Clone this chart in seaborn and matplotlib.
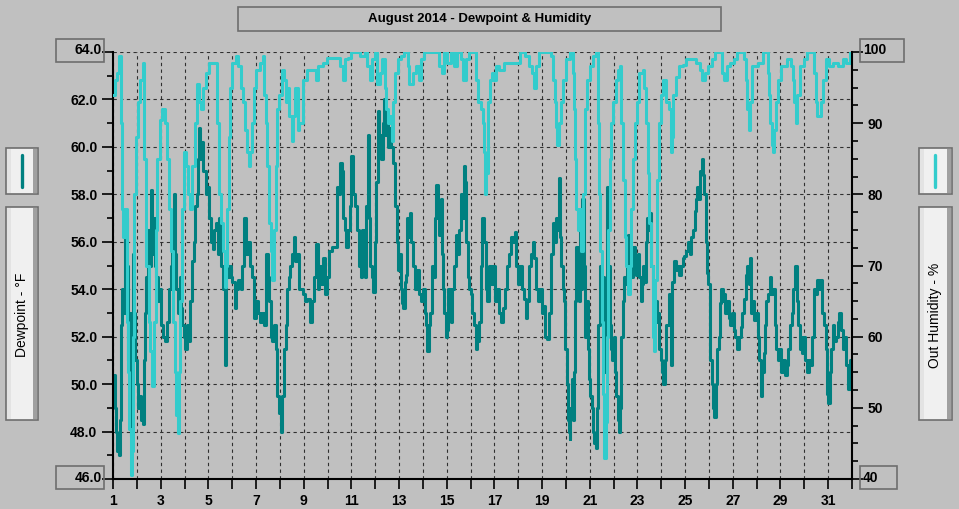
import numpy as np
import pandas as pd
import matplotlib
matplotlib.use("Agg")
import matplotlib.pyplot as plt
from matplotlib.patches import Rectangle
from matplotlib.lines import Line2D
import seaborn as sns

# chart data (day of month, value)
title = "August 2014 - Dewpoint & Humidity"
dew_label = "Dewpoint - °F"
hum_label = "Out Humidity - %"

dew_points = [
    (1.00, 50.4), (1.07, 49.0), (1.13, 48.0), (1.18, 47.2), (1.24, 47.0), (1.28, 48.5), (1.32, 52.5),
    (1.38, 54.0), (1.43, 53.0), (1.49, 56.5), (1.54, 57.0), (1.60, 55.0), (1.64, 51.0), (1.68, 53.0),
    (1.74, 47.8), (1.78, 52.0), (1.82, 55.5), (1.88, 53.0), (1.93, 51.0), (1.99, 50.0), (2.06, 49.0),
    (2.13, 49.5), (2.18, 48.5), (2.24, 48.3), (2.29, 51.0), (2.35, 53.0), (2.40, 54.5), (2.47, 56.5),
    (2.54, 55.0), (2.61, 58.2), (2.65, 55.5), (2.71, 57.0), (2.76, 55.0), (2.82, 54.5), (2.89, 53.5),
    (2.96, 54.0), (3.03, 52.5), (3.10, 52.0), (3.18, 51.8), (3.26, 52.6), (3.35, 54.0), (3.42, 55.0),
    (3.49, 56.5), (3.54, 58.0), (3.60, 55.5), (3.65, 54.0), (3.72, 53.0), (3.79, 54.5), (3.85, 53.2),
    (3.90, 52.5), (3.96, 52.0), (4.01, 51.5), (4.10, 52.5), (4.18, 51.8), (4.25, 53.5), (4.32, 55.2),
    (4.40, 56.0), (4.46, 57.5), (4.51, 58.0), (4.57, 59.5), (4.61, 60.8), (4.67, 59.5), (4.72, 60.2),
    (4.79, 59.0), (4.85, 59.0), (4.90, 58.0), (4.97, 58.3), (5.04, 57.0), (5.11, 56.0), (5.18, 55.7),
    (5.25, 56.5), (5.32, 56.8), (5.39, 55.5), (5.46, 57.0), (5.53, 55.0), (5.60, 54.0), (5.67, 55.0),
    (5.71, 50.8), (5.76, 54.5), (5.85, 55.0), (5.93, 54.5), (6.01, 54.3), (6.10, 53.2), (6.18, 54.0),
    (6.26, 54.4), (6.35, 54.0), (6.43, 55.0), (6.51, 57.0), (6.57, 55.5), (6.65, 56.0), (6.74, 55.0),
    (6.81, 54.5), (6.90, 52.8), (6.99, 53.5), (7.07, 53.0), (7.15, 52.6), (7.24, 53.0), (7.32, 52.5),
    (7.40, 55.5), (7.49, 54.5), (7.54, 53.5), (7.61, 52.0), (7.68, 51.8), (7.76, 52.5), (7.82, 51.5),
    (7.89, 49.5), (7.96, 48.8), (8.03, 48.0), (8.10, 49.5), (8.17, 51.5), (8.24, 52.5), (8.31, 54.0),
    (8.38, 54.5), (8.44, 55.0), (8.51, 55.5), (8.58, 56.2), (8.65, 55.2), (8.72, 55.5), (8.79, 54.0),
    (8.85, 54.0), (8.96, 53.8), (9.06, 53.5), (9.15, 53.6), (9.26, 52.6), (9.33, 53.5), (9.43, 54.5),
    (9.51, 55.9), (9.58, 54.0), (9.65, 55.0), (9.74, 54.2), (9.82, 55.3), (9.90, 53.8), (9.99, 54.5),
    (10.07, 55.6), (10.17, 55.8), (10.31, 55.8), (10.38, 58.3), (10.44, 58.0), (10.51, 59.3), (10.60, 59.0),
    (10.65, 57.0), (10.74, 56.5), (10.79, 55.8), (10.86, 56.5), (10.93, 57.5), (11.00, 59.6), (11.07, 58.0),
    (11.15, 57.5), (11.24, 56.5), (11.32, 55.0), (11.39, 54.5), (11.46, 56.5), (11.51, 55.5), (11.57, 54.5),
    (11.63, 57.5), (11.68, 60.5), (11.74, 57.0), (11.79, 55.0), (11.85, 54.5), (11.90, 53.9), (11.97, 56.0),
    (12.04, 58.5), (12.10, 61.5), (12.15, 60.0), (12.21, 60.5), (12.26, 59.5), (12.32, 61.0), (12.38, 62.0),
    (12.43, 60.5), (12.49, 61.2), (12.54, 60.0), (12.60, 60.8), (12.67, 60.0), (12.74, 59.3), (12.81, 58.5),
    (12.85, 57.5), (12.90, 56.0), (12.96, 54.8), (13.01, 55.5), (13.07, 54.0), (13.13, 53.4), (13.18, 53.2),
    (13.24, 54.3), (13.29, 54.6), (13.35, 57.0), (13.40, 56.2), (13.46, 57.2), (13.51, 56.0), (13.57, 55.0),
    (13.65, 54.0), (13.74, 54.8), (13.82, 53.8), (13.90, 53.5), (13.99, 54.0), (14.07, 53.0), (14.13, 52.5),
    (14.18, 51.4), (14.24, 52.5), (14.29, 53.0), (14.38, 55.0), (14.46, 54.5), (14.51, 57.0), (14.57, 58.4),
    (14.63, 57.0), (14.68, 56.3), (14.74, 57.8), (14.79, 55.5), (14.85, 54.0), (14.90, 53.0), (14.96, 52.0),
    (15.01, 52.3), (15.07, 54.0), (15.13, 53.0), (15.18, 52.6), (15.24, 54.0), (15.31, 55.0), (15.38, 56.3),
    (15.44, 55.5), (15.51, 56.5), (15.58, 58.0), (15.65, 57.0), (15.72, 59.2), (15.76, 58.5), (15.82, 56.0),
    (15.88, 54.5), (15.93, 54.0), (16.00, 53.8), (16.07, 53.0), (16.14, 52.5), (16.21, 51.5), (16.28, 51.8),
    (16.35, 52.6), (16.42, 55.0), (16.49, 57.0), (16.56, 56.0), (16.63, 54.0), (16.69, 53.5), (16.78, 55.0),
    (16.86, 54.2), (16.94, 55.0), (17.03, 53.5), (17.11, 54.0), (17.19, 53.0), (17.28, 52.6), (17.36, 53.2),
    (17.44, 54.0), (17.53, 55.0), (17.61, 55.5), (17.69, 56.2), (17.78, 56.0), (17.86, 56.4), (17.92, 55.0),
    (17.97, 54.2), (18.06, 55.0), (18.14, 54.0), (18.22, 53.6), (18.31, 52.8), (18.36, 53.5), (18.44, 55.0),
    (18.53, 55.5), (18.61, 56.0), (18.67, 55.3), (18.75, 54.0), (18.83, 53.5), (18.92, 54.0), (19.00, 53.0),
    (19.08, 53.3), (19.14, 52.0), (19.22, 51.9), (19.31, 53.0), (19.39, 55.5), (19.47, 56.8), (19.53, 56.0),
    (19.58, 57.0), (19.64, 56.5), (19.69, 58.7), (19.75, 56.2), (19.81, 55.0), (19.86, 54.0), (19.92, 53.5),
    (19.97, 51.5), (20.03, 50.0), (20.07, 48.5), (20.11, 48.0), (20.15, 47.7), (20.19, 49.0), (20.24, 50.2),
    (20.28, 48.5), (20.33, 50.5), (20.39, 53.5), (20.44, 55.8), (20.49, 55.0), (20.53, 53.5), (20.58, 56.5),
    (20.64, 54.0), (20.69, 57.8), (20.75, 55.0), (20.81, 52.0), (20.86, 53.5), (20.92, 51.5), (20.97, 50.2),
    (21.03, 49.5), (21.08, 49.0), (21.14, 48.0), (21.19, 47.5), (21.25, 47.3), (21.31, 49.0), (21.36, 52.5),
    (21.42, 55.0), (21.47, 53.5), (21.53, 54.5), (21.58, 52.0), (21.64, 50.5), (21.69, 51.5), (21.74, 58.3),
    (21.78, 55.0), (21.83, 52.5), (21.89, 51.5), (21.94, 51.0), (22.00, 52.0), (22.06, 50.5), (22.11, 49.5),
    (22.17, 48.5), (22.22, 48.0), (22.28, 49.0), (22.33, 52.0), (22.39, 53.5), (22.44, 54.5), (22.50, 54.2),
    (22.56, 55.5), (22.61, 56.3), (22.67, 54.8), (22.72, 55.5), (22.78, 54.5), (22.83, 55.8), (22.89, 55.0),
    (22.94, 54.6), (23.03, 55.5), (23.08, 54.5), (23.14, 53.5), (23.19, 54.2), (23.25, 55.0), (23.31, 54.3),
    (23.36, 56.0), (23.42, 57.0), (23.47, 56.5), (23.53, 57.2), (23.58, 55.0), (23.64, 54.0), (23.69, 52.8),
    (23.75, 53.5), (23.81, 52.6), (23.86, 53.0), (23.92, 51.5), (23.97, 51.0), (24.03, 50.5), (24.08, 50.0),
    (24.14, 51.0), (24.19, 52.5), (24.26, 52.5), (24.33, 53.8), (24.40, 50.8), (24.47, 54.3), (24.54, 55.2),
    (24.61, 54.8), (24.69, 55.0), (24.76, 54.6), (24.83, 55.0), (24.91, 55.3), (24.97, 55.4), (25.04, 55.6),
    (25.11, 56.0), (25.19, 55.5), (25.26, 56.2), (25.33, 56.5), (25.40, 57.3), (25.47, 57.8), (25.51, 58.3),
    (25.57, 57.8), (25.63, 59.0), (25.69, 59.5), (25.74, 58.8), (25.80, 58.0), (25.86, 56.0), (25.91, 54.7),
    (25.97, 54.2), (26.03, 53.0), (26.06, 51.0), (26.11, 50.0), (26.17, 49.0), (26.23, 48.6), (26.29, 50.0),
    (26.34, 51.5), (26.40, 52.0), (26.46, 53.4), (26.51, 54.0), (26.57, 53.5), (26.63, 53.8), (26.69, 53.0),
    (26.76, 53.5), (26.83, 52.8), (26.90, 52.5), (26.97, 53.0), (27.04, 52.3), (27.11, 52.0), (27.19, 51.5),
    (27.26, 52.0), (27.33, 52.4), (27.40, 53.0), (27.47, 53.6), (27.54, 54.6), (27.60, 55.0), (27.66, 54.2),
    (27.71, 55.3), (27.77, 53.0), (27.83, 53.5), (27.90, 52.7), (27.97, 53.0), (28.04, 52.0), (28.11, 51.0),
    (28.17, 49.5), (28.23, 50.5), (28.29, 51.3), (28.34, 52.5), (28.40, 53.5), (28.47, 53.8), (28.54, 54.5),
    (28.61, 53.8), (28.69, 54.0), (28.76, 52.5), (28.83, 51.5), (28.90, 51.0), (28.97, 51.5), (29.04, 50.5),
    (29.11, 51.0), (29.19, 50.4), (29.26, 50.8), (29.33, 51.5), (29.40, 52.5), (29.47, 53.0), (29.54, 54.0),
    (29.61, 55.0), (29.69, 53.5), (29.74, 52.5), (29.80, 51.5), (29.86, 52.0), (29.91, 51.3), (29.97, 52.0),
    (30.04, 51.0), (30.11, 50.5), (30.19, 51.0), (30.26, 50.8), (30.33, 52.0), (30.40, 54.0), (30.47, 53.8),
    (30.54, 54.4), (30.61, 54.0), (30.69, 54.4), (30.76, 53.0), (30.83, 52.5), (30.89, 51.5), (30.94, 49.6),
    (31.00, 49.2), (31.06, 50.5), (31.11, 51.5), (31.19, 52.5), (31.26, 51.8), (31.33, 52.0), (31.40, 52.6),
    (31.47, 53.0), (31.54, 52.3), (31.61, 51.5), (31.69, 52.0), (31.76, 50.8), (31.83, 49.8), (31.90, 51.0),
    (31.97, 50.5),
]

hum_points = [
    (1.00, 94), (1.08, 96), (1.15, 97), (1.26, 99.5), (1.32, 90), (1.36, 78), (1.43, 74), (1.50, 78),
    (1.57, 62), (1.64, 55), (1.68, 47), (1.74, 40.5), (1.79, 44), (1.85, 60), (1.90, 80), (1.96, 88),
    (2.04, 93), (2.12, 96), (2.26, 98.5), (2.32, 85), (2.40, 70), (2.49, 62), (2.57, 58), (2.65, 53),
    (2.72, 62), (2.79, 75), (2.86, 85), (2.96, 90.5), (3.07, 92), (3.17, 90), (3.26, 85), (3.35, 78),
    (3.43, 72), (3.51, 62), (3.60, 55), (3.65, 49), (3.72, 46.5), (3.76, 55), (3.82, 65), (3.90, 78),
    (3.99, 86), (4.07, 84), (4.15, 80), (4.24, 78), (4.32, 84), (4.42, 90), (4.51, 95.5), (4.60, 93),
    (4.69, 92), (4.79, 95), (4.90, 97), (5.04, 98.5), (5.25, 98.5), (5.35, 90), (5.43, 80), (5.51, 76),
    (5.60, 72), (5.68, 67), (5.74, 70), (5.79, 78), (5.85, 88), (5.90, 95), (6.01, 98.5), (6.15, 99.5),
    (6.26, 98), (6.36, 95), (6.46, 93), (6.54, 89), (6.63, 86), (6.71, 84), (6.76, 86), (6.85, 90),
    (6.93, 95), (7.01, 97.5), (7.15, 98.5), (7.29, 99.5), (7.35, 94), (7.40, 90), (7.47, 84), (7.54, 76),
    (7.61, 72), (7.68, 68), (7.75, 75), (7.82, 84), (7.89, 92), (7.96, 94), (8.07, 97.5), (8.17, 96),
    (8.24, 93), (8.32, 95), (8.40, 91), (8.49, 87.5), (8.57, 91), (8.65, 95), (8.74, 89), (8.82, 90),
    (8.92, 90), (8.99, 96), (9.13, 97.5), (9.33, 97.5), (9.51, 96), (9.61, 98), (9.82, 98.5), (9.96, 99.2),
    (10.38, 99.2), (10.51, 98), (10.63, 96), (10.72, 99), (10.86, 99.2), (11.00, 100), (11.35, 99.5),
    (11.56, 100), (11.65, 98), (11.76, 96), (11.88, 99), (11.97, 100), (12.07, 95.5), (12.18, 97),
    (12.29, 99), (12.39, 95), (12.46, 92), (12.53, 90), (12.63, 91), (12.71, 87.5), (12.76, 93),
    (12.85, 97), (12.94, 99), (13.08, 99.5), (13.22, 100), (13.36, 98), (13.43, 95.5), (13.57, 97),
    (13.71, 98), (13.82, 96), (13.92, 99), (14.06, 100), (14.54, 100), (14.68, 98), (14.79, 97),
    (14.89, 100), (15.03, 98.5), (15.17, 100), (15.31, 98), (15.44, 100), (15.58, 99), (15.68, 96),
    (15.79, 99), (15.93, 100), (16.14, 100), (16.24, 96), (16.32, 93), (16.42, 92), (16.50, 90),
    (16.56, 86), (16.61, 80), (16.65, 83), (16.72, 93), (16.81, 96), (16.90, 97), (16.97, 96), (17.06, 98),
    (17.18, 97.5), (17.39, 98.5), (17.94, 98.5), (18.08, 100), (18.29, 99.5), (18.43, 98), (18.57, 97),
    (18.67, 95), (18.75, 98), (18.89, 100), (19.19, 100), (19.36, 99.5), (19.44, 96), (19.53, 93),
    (19.58, 89.5), (19.64, 87), (19.72, 90), (19.81, 93), (19.89, 96), (20.00, 99), (20.17, 100),
    (20.28, 97), (20.33, 92), (20.39, 85), (20.44, 78), (20.51, 75), (20.58, 78), (20.65, 72), (20.72, 80),
    (20.81, 92), (20.89, 96), (21.00, 98), (21.14, 99.5), (21.28, 100), (21.35, 90), (21.39, 80),
    (21.44, 72), (21.50, 62), (21.56, 52), (21.61, 43), (21.67, 48), (21.72, 60), (21.78, 75), (21.83, 85),
    (21.90, 90), (21.97, 93), (22.08, 96), (22.18, 97.5), (22.28, 98), (22.33, 90), (22.39, 82), (22.46, 74),
    (22.53, 70), (22.60, 66), (22.67, 70), (22.74, 78), (22.81, 85), (22.88, 90), (22.97, 93), (23.08, 97),
    (23.22, 97.5), (23.29, 95), (23.36, 90), (23.43, 83), (23.50, 76), (23.57, 70), (23.64, 60), (23.69, 58),
    (23.75, 68), (23.82, 82), (23.89, 90), (23.99, 94), (24.08, 96), (24.19, 93), (24.33, 92), (24.40, 86),
    (24.46, 88), (24.51, 94), (24.61, 96.5), (24.76, 98), (24.90, 98.2), (25.04, 99), (25.26, 99),
    (25.47, 98.5), (25.61, 97.5), (25.71, 96), (25.83, 97), (25.97, 98), (26.11, 99), (26.26, 100),
    (26.47, 100), (26.54, 97), (26.63, 96), (26.76, 98), (26.90, 98.5), (27.04, 99), (27.19, 100),
    (27.40, 100), (27.47, 99), (27.54, 96), (27.60, 92), (27.66, 89), (27.71, 93), (27.80, 98), (28.04, 98.5),
    (28.26, 100), (28.40, 100), (28.46, 97), (28.51, 94), (28.57, 90), (28.63, 87), (28.69, 86), (28.74, 89),
    (28.83, 93), (28.91, 96), (29.04, 98), (29.26, 99), (29.43, 98), (29.51, 96), (29.57, 93), (29.63, 90),
    (29.69, 94), (29.80, 98), (29.97, 99), (30.11, 100), (30.33, 100), (30.40, 97), (30.47, 93), (30.54, 91),
    (30.61, 91), (30.69, 93), (30.77, 96), (30.90, 99), (31.04, 98), (31.19, 98.5), (31.40, 98), (31.61, 99),
    (31.76, 98.5), (31.90, 100), (32.00, 100),
]

day_ticks = list(range(1, 33))
dew_ticks = list(range(46, 65, 2))
hum_ticks = list(range(40, 101, 10))

BG = "#c0c0c0"
DEW = "#008080"
HUM = "#33cccc"
W, H = 959, 509

dew = pd.DataFrame(dew_points, columns=["day", "dewpoint"])
hum = pd.DataFrame(hum_points, columns=["day", "humidity"])

plt.rcParams["font.family"] = ["Liberation Sans", "DejaVu Sans"]

fig = plt.figure(figsize=(W / 100, H / 100), dpi=100, facecolor=BG)
ax = fig.add_axes([113 / W, 1 - 479 / H, (852 - 113) / W, (479 - 52) / H], facecolor=BG)

sns.lineplot(data=dew, x="day", y="dewpoint", ax=ax, color=DEW, lw=2.2,
             drawstyle="steps-post", estimator=None, sort=False, legend=False)
ax.set_xlim(1, 32)
ax.set_ylim(46, 64)

ax2 = ax.twinx()
sns.lineplot(data=hum, x="day", y="humidity", ax=ax2, color=HUM, lw=2.2,
             drawstyle="steps-post", estimator=None, sort=False, legend=False)
ax2.set_ylim(40, 100)

for a in (ax, ax2):
    a.set_xlabel("")
    a.set_ylabel("")
    for s in a.spines.values():
        s.set_visible(False)

ax.spines["left"].set_visible(True)
ax.spines["bottom"].set_visible(True)
ax2.spines["right"].set_visible(True)
for s in (ax.spines["left"], ax.spines["bottom"], ax2.spines["right"]):
    s.set_color("black")
    s.set_linewidth(1.5)

# ticks
ax.set_xticks(day_ticks)
ax.set_xticklabels([str(d) if d % 2 == 1 else "" for d in day_ticks])
ax.set_yticks(dew_ticks)
ax.set_yticklabels(["" if v in (46, 64) else f"{v:.1f}" for v in dew_ticks])
ax.set_yticks(np.arange(46, 65, 1), minor=True)
ax2.set_yticks(hum_ticks)
ax2.set_yticklabels(["" if v in (40, 100) else str(v) for v in hum_ticks])
ax2.set_yticks(np.arange(40, 101, 2.5), minor=True)

ax.tick_params(axis="x", length=7, width=1.2, pad=3.5, labelsize=10)
ax.tick_params(axis="y", which="major", length=8, width=1.2, pad=3.2, labelsize=10)
ax.tick_params(axis="y", which="minor", length=4, width=1.2)
ax2.tick_params(axis="y", which="major", length=8, width=1.2, pad=3.0, labelsize=10)
ax2.tick_params(axis="y", which="minor", length=4, width=1.2)
for lbl in ax.get_xticklabels() + ax.get_yticklabels() + ax2.get_yticklabels():
    lbl.set_fontweight("bold")

ax.grid(True, which="major", color="#303030", linestyle=(0, (3, 3)), linewidth=0.8)
ax.set_axisbelow(True)


def fx(x):
    return x / W


def fy(y):
    return 1 - y / H


def frame(x0, y0, x1, y1):
    fig.add_artist(Rectangle((fx(x0), fy(y1)), fx(x1 - x0), (y1 - y0) / H,
                             transform=fig.transFigure, facecolor="none",
                             edgecolor="#6e6e6e", lw=1.2))


def panel(x0, y0, x1, y1):
    fig.add_artist(Rectangle((fx(x0), fy(y1)), fx(x1 - x0), (y1 - y0) / H,
                             transform=fig.transFigure, facecolor="#f0f0f0",
                             edgecolor="#6e6e6e", lw=1.2))
    fig.add_artist(Rectangle((fx(x0 + 1), fy(y1 - 1)), fx(4), (y1 - y0 - 2) / H,
                             transform=fig.transFigure, facecolor="#e3e3e3", lw=0))
    fig.add_artist(Rectangle((fx(x1 - 5), fy(y1 - 1)), fx(4), (y1 - y0 - 2) / H,
                             transform=fig.transFigure, facecolor="#a0a0a0", lw=0))


# title box
frame(238, 7, 721, 31)
fig.text(fx(479.5), fy(19), title, ha="center", va="center", fontsize=9.5, fontweight="bold")

# axis end value boxes
frame(56, 39, 104, 62)
fig.text(fx(102), fy(50), "64.0", ha="right", va="center", fontsize=10, fontweight="bold")
frame(56, 466, 104, 489)
fig.text(fx(102), fy(477.5), "46.0", ha="right", va="center", fontsize=10, fontweight="bold")
frame(860, 39, 904, 62)
fig.text(fx(863), fy(50), "100", ha="left", va="center", fontsize=10, fontweight="bold")
frame(860, 466, 897, 489)
fig.text(fx(863), fy(477.5), "40", ha="left", va="center", fontsize=10, fontweight="bold")

# legend panels
panel(6, 148, 38, 194)
fig.add_artist(Line2D([fx(22), fx(22)], [fy(155), fy(187)], color=DEW, lw=2.4,
                      solid_capstyle="round", transform=fig.transFigure))
panel(6, 207, 38, 420)
fig.text(fx(22), fy(315), dew_label, rotation=90, ha="center", va="center", fontsize=10)

panel(919, 148, 952, 194)
fig.add_artist(Line2D([fx(935), fx(935)], [fy(155), fy(187)], color=HUM, lw=2.4,
                      solid_capstyle="round", transform=fig.transFigure))
panel(919, 207, 952, 420)
fig.text(fx(935.5), fy(315), hum_label, rotation=90, ha="center", va="center", fontsize=10)

fig.savefig("out.png", dpi=100, facecolor=BG)
